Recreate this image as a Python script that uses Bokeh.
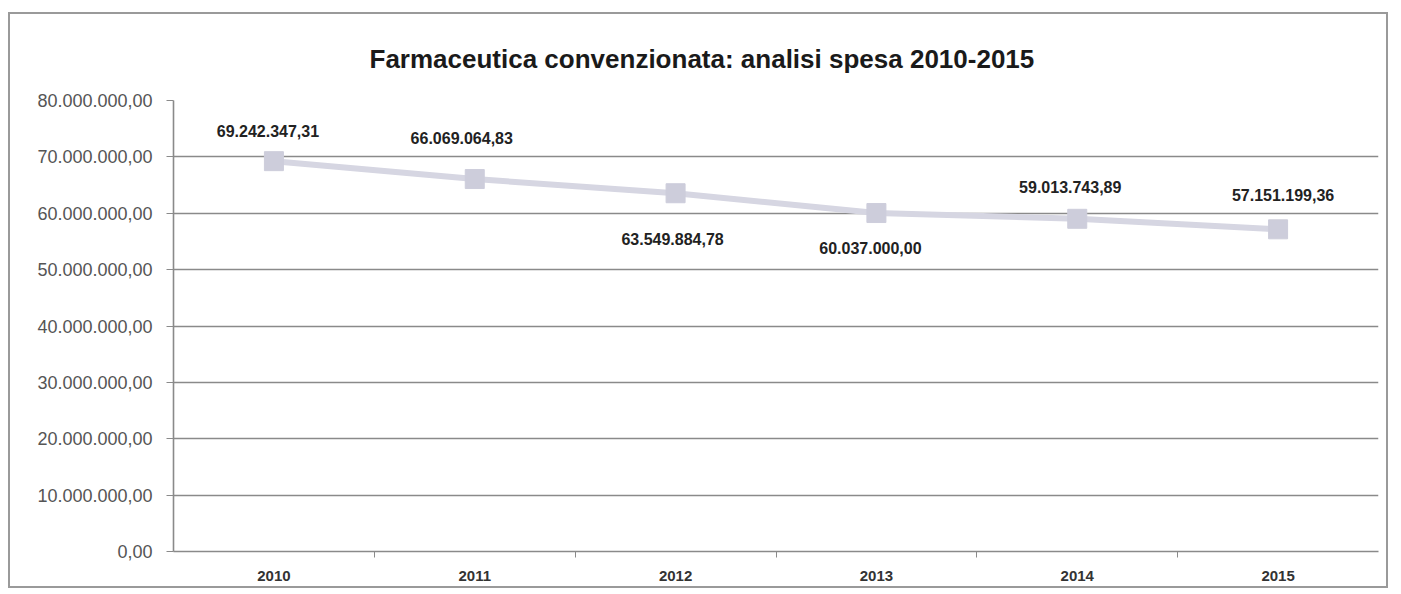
from bokeh.plotting import figure
from bokeh.models import ColumnDataSource, FixedTicker, Range1d, Title
from bokeh.core.properties import value
from bokeh.embed import file_html
from bokeh.resources import INLINE

# ---- data ----
years = ["2010", "2011", "2012", "2013", "2014", "2015"]
spesa = [69242347.31, 66069064.83, 63549884.78, 60037000.00, 59013743.89, 57151199.36]
spesa_labels = ["69.242.347,31", "66.069.064,83", "63.549.884,78",
                "60.037.000,00", "59.013.743,89", "57.151.199,36"]
y_ticks = [0, 10000000, 20000000, 30000000, 40000000, 50000000, 60000000, 70000000, 80000000]
y_tick_labels = ["0,00", "10.000.000,00", "20.000.000,00", "30.000.000,00", "40.000.000,00",
                 "50.000.000,00", "60.000.000,00", "70.000.000,00", "80.000.000,00"]
title_text = "Farmaceutica convenzionata: analisi spesa 2010-2015"

# ---- label placement (style, screen px) ----
label_dx = [-6, -13, -3, -6, -7, 5]
label_dy = [30, 41, -46, -35, 32, 34]

xpos = [i + 0.5 for i in range(len(years))]
src = ColumnDataSource(dict(x=xpos, y=spesa, lab=spesa_labels, dx=label_dx,
                            dy=[-d for d in label_dy]))

FONT = "Liberation Sans"

p = figure(width=1380, height=576, output_backend="svg", toolbar_location=None,
           x_range=Range1d(0, len(years)), y_range=Range1d(0, 80000000),
           min_border_left=163, min_border_right=12, min_border_top=0, min_border_bottom=39)
p.styles = {"border": "2px solid #9a9a9a", "margin-left": "8px", "margin-top": "12px"}
p.outline_line_color = None
p.background_fill_color = "white"
p.border_fill_color = "white"

t = Title(text=title_text, align="left", text_font=FONT, text_font_size="26px",
          text_font_style="bold", text_color="#1a1a1a", offset=196, standoff=54)
p.add_layout(t, "above")

# grid
p.xgrid.grid_line_color = None
p.ygrid.grid_line_color = "#8a8a8a"
p.ygrid.grid_line_width = 1.6

# y axis
p.yaxis.ticker = FixedTicker(ticks=y_ticks)
p.yaxis.major_label_overrides = {v: s for v, s in zip(y_ticks, y_tick_labels)}
p.yaxis.axis_line_color = "#8a8a8a"
p.yaxis.axis_line_width = 1.6
p.yaxis.major_tick_out = 7
p.yaxis.major_tick_in = 0
p.yaxis.major_tick_line_color = "#8a8a8a"
p.yaxis.minor_tick_line_color = None
p.yaxis.major_label_text_font = FONT
p.yaxis.major_label_text_font_size = "18px"
p.yaxis.major_label_text_color = "#555555"
p.yaxis.major_label_standoff = 14

# x axis
p.xaxis.ticker = FixedTicker(ticks=xpos, minor_ticks=list(range(1, len(years))))
p.xaxis.major_label_overrides = {v: s for v, s in zip(xpos, years)}
p.xaxis.axis_line_color = "#8a8a8a"
p.xaxis.axis_line_width = 1.6
p.xaxis.major_tick_line_color = None
p.xaxis.major_tick_out = 6
p.xaxis.minor_tick_out = 6
p.xaxis.minor_tick_in = 0
p.xaxis.minor_tick_line_color = "#8a8a8a"
p.xaxis.major_label_text_font = FONT
p.xaxis.major_label_text_font_size = "15px"
p.xaxis.major_label_text_font_style = "bold"
p.xaxis.major_label_text_color = "#333333"
p.xaxis.major_label_standoff = 13

# series
p.line("x", "y", source=src, line_color="#d6d6e2", line_width=6)
p.scatter("x", "y", source=src, marker="square", size=19, fill_color="#cdcddb",
          line_color="#cdcddb")

p.text("x", "y", text="lab", source=src, x_offset="dx", y_offset="dy",
       text_align="center", text_baseline="middle", text_font_size="16px",
       text_font=value(FONT), text_font_style="bold", text_color="#222222")

open("out.html", "w").write(file_html(p, INLINE))
